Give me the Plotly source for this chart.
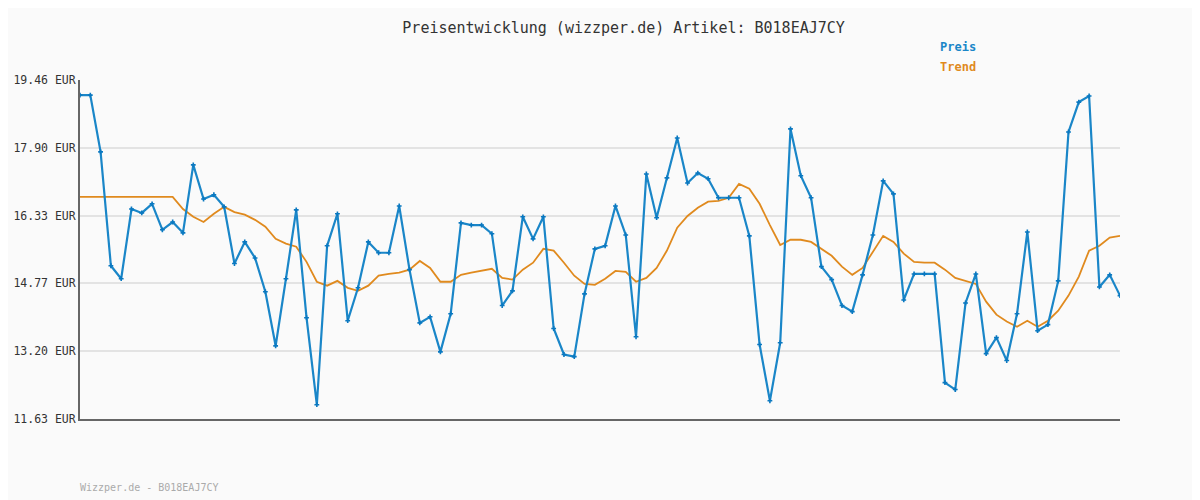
import plotly.graph_objects as go

preis = [19.11, 19.11, 17.80, 15.17, 14.87, 16.48, 16.39, 16.60, 16.00, 16.18,
         15.93, 17.50, 16.71, 16.81, 16.53, 15.22, 15.72, 15.35, 14.57, 13.32,
         14.87, 16.46, 13.97, 11.96, 15.63, 16.37, 13.90, 14.66, 15.72, 15.47,
         15.47, 16.55, 15.08, 13.85, 13.99, 13.18, 14.06, 16.16, 16.11, 16.11,
         15.91, 14.25, 14.59, 16.30, 15.79, 16.30, 13.72, 13.12, 13.07, 14.52,
         15.56, 15.63, 16.55, 15.88, 13.53, 17.29, 16.28, 17.20, 18.12, 17.08,
         17.31, 17.18, 16.74, 16.74, 16.74, 15.86, 13.35, 12.05, 13.39, 18.33,
         17.25, 16.74, 15.15, 14.85, 14.25, 14.11, 14.96, 15.88, 17.13, 16.83,
         14.38, 14.98, 14.98, 14.98, 12.47, 12.31, 14.31, 14.98, 13.14, 13.51,
         12.98, 14.06, 15.95, 13.67, 13.81, 14.82, 18.26, 18.95, 19.09, 14.68,
         14.96, 14.48]

trend = [16.76, 16.76, 16.76, 16.76, 16.76, 16.76, 16.76, 16.76, 16.76, 16.76,
         16.48, 16.30, 16.18, 16.37, 16.53, 16.41, 16.35, 16.23, 16.07, 15.79,
         15.68, 15.61, 15.26, 14.80, 14.71, 14.82, 14.66, 14.59, 14.71, 14.94,
         14.98, 15.01, 15.08, 15.28, 15.12, 14.80, 14.80, 14.96, 15.01, 15.05,
         15.10, 14.89, 14.85, 15.08, 15.24, 15.56, 15.52, 15.24, 14.94, 14.75,
         14.73, 14.87, 15.05, 15.03, 14.80, 14.89, 15.12, 15.52, 16.05, 16.32,
         16.51, 16.65, 16.67, 16.74, 17.06, 16.95, 16.60, 16.11, 15.65, 15.77,
         15.77, 15.72, 15.56, 15.40, 15.15, 14.96, 15.12, 15.49, 15.86, 15.72,
         15.45, 15.26, 15.24, 15.24, 15.08, 14.89, 14.82, 14.75, 14.34, 14.04,
         13.88, 13.76, 13.90, 13.76, 13.90, 14.13, 14.48, 14.92, 15.52, 15.63,
         15.82, 15.86]

yticks = [11.63, 13.20, 14.77, 16.33, 17.90, 19.46]
ylabels = ["%.2f EUR" % v for v in yticks]
x = list(range(len(preis)))

mono = "DejaVu Sans Mono"

fig = go.Figure()
fig.add_trace(go.Scatter(x=x, y=trend, mode="lines", name="Trend",
                         line=dict(color="#e08a1e", width=1.8)))
fig.add_trace(go.Scatter(x=x, y=preis, mode="lines+markers", name="Preis",
                         line=dict(color="#1a86c8", width=2.2),
                         marker=dict(symbol="cross", size=4, color="#0a78c0")))

# page is offset by 8px, so shift the plot area up/left by 8px
fig.update_layout(
    width=1200, height=500,
    margin=dict(l=72, r=88, t=72, b=89),
    paper_bgcolor="#fafafa", plot_bgcolor="#fafafa",
    showlegend=False,
    font=dict(family=mono, size=12, color="#333"),
    title=dict(text="Preisentwicklung (wizzper.de) Artikel: B018EAJ7CY",
               x=0.513, xanchor="center", y=0.96, yanchor="middle",
               font=dict(family=mono, size=15, color="#333")),
)
fig.update_xaxes(range=[0, len(preis) - 1], showgrid=False, showticklabels=False,
                 zeroline=False, showline=True, linecolor="#666", linewidth=2)
fig.update_yaxes(range=[11.63, 19.46], tickvals=yticks, ticktext=ylabels,
                 automargin=False,
                 showgrid=True, gridcolor="#e3e3e3", gridwidth=2, zeroline=False,
                 showline=True, linecolor="#666", linewidth=2, ticks="",
                 tickfont=dict(family=mono, size=11.5, color="#333"))

fig.add_annotation(text="<b>Preis</b>", x=938, y=47, showarrow=False,
                   font=dict(family=mono, size=12, color="#1a86c8"))
fig.add_annotation(text="<b>Trend</b>", x=938, y=67, showarrow=False,
                   font=dict(family=mono, size=12, color="#e08a1e"))
fig.add_annotation(text="Wizzper.de - B018EAJ7CY", x=78, y=487, showarrow=False,
                   font=dict(family=mono, size=10, color="#aaa"))

# annotation positions given in page pixels -> paper coords
for a in fig.layout.annotations:
    a.xref = "paper"
    a.yref = "paper"
    a.x = (a.x - 80) / 1040
    a.y = 1 - (a.y - 80) / 339
    a.xanchor = "left"
    a.yanchor = "middle"

fig.write_html("out.html")
